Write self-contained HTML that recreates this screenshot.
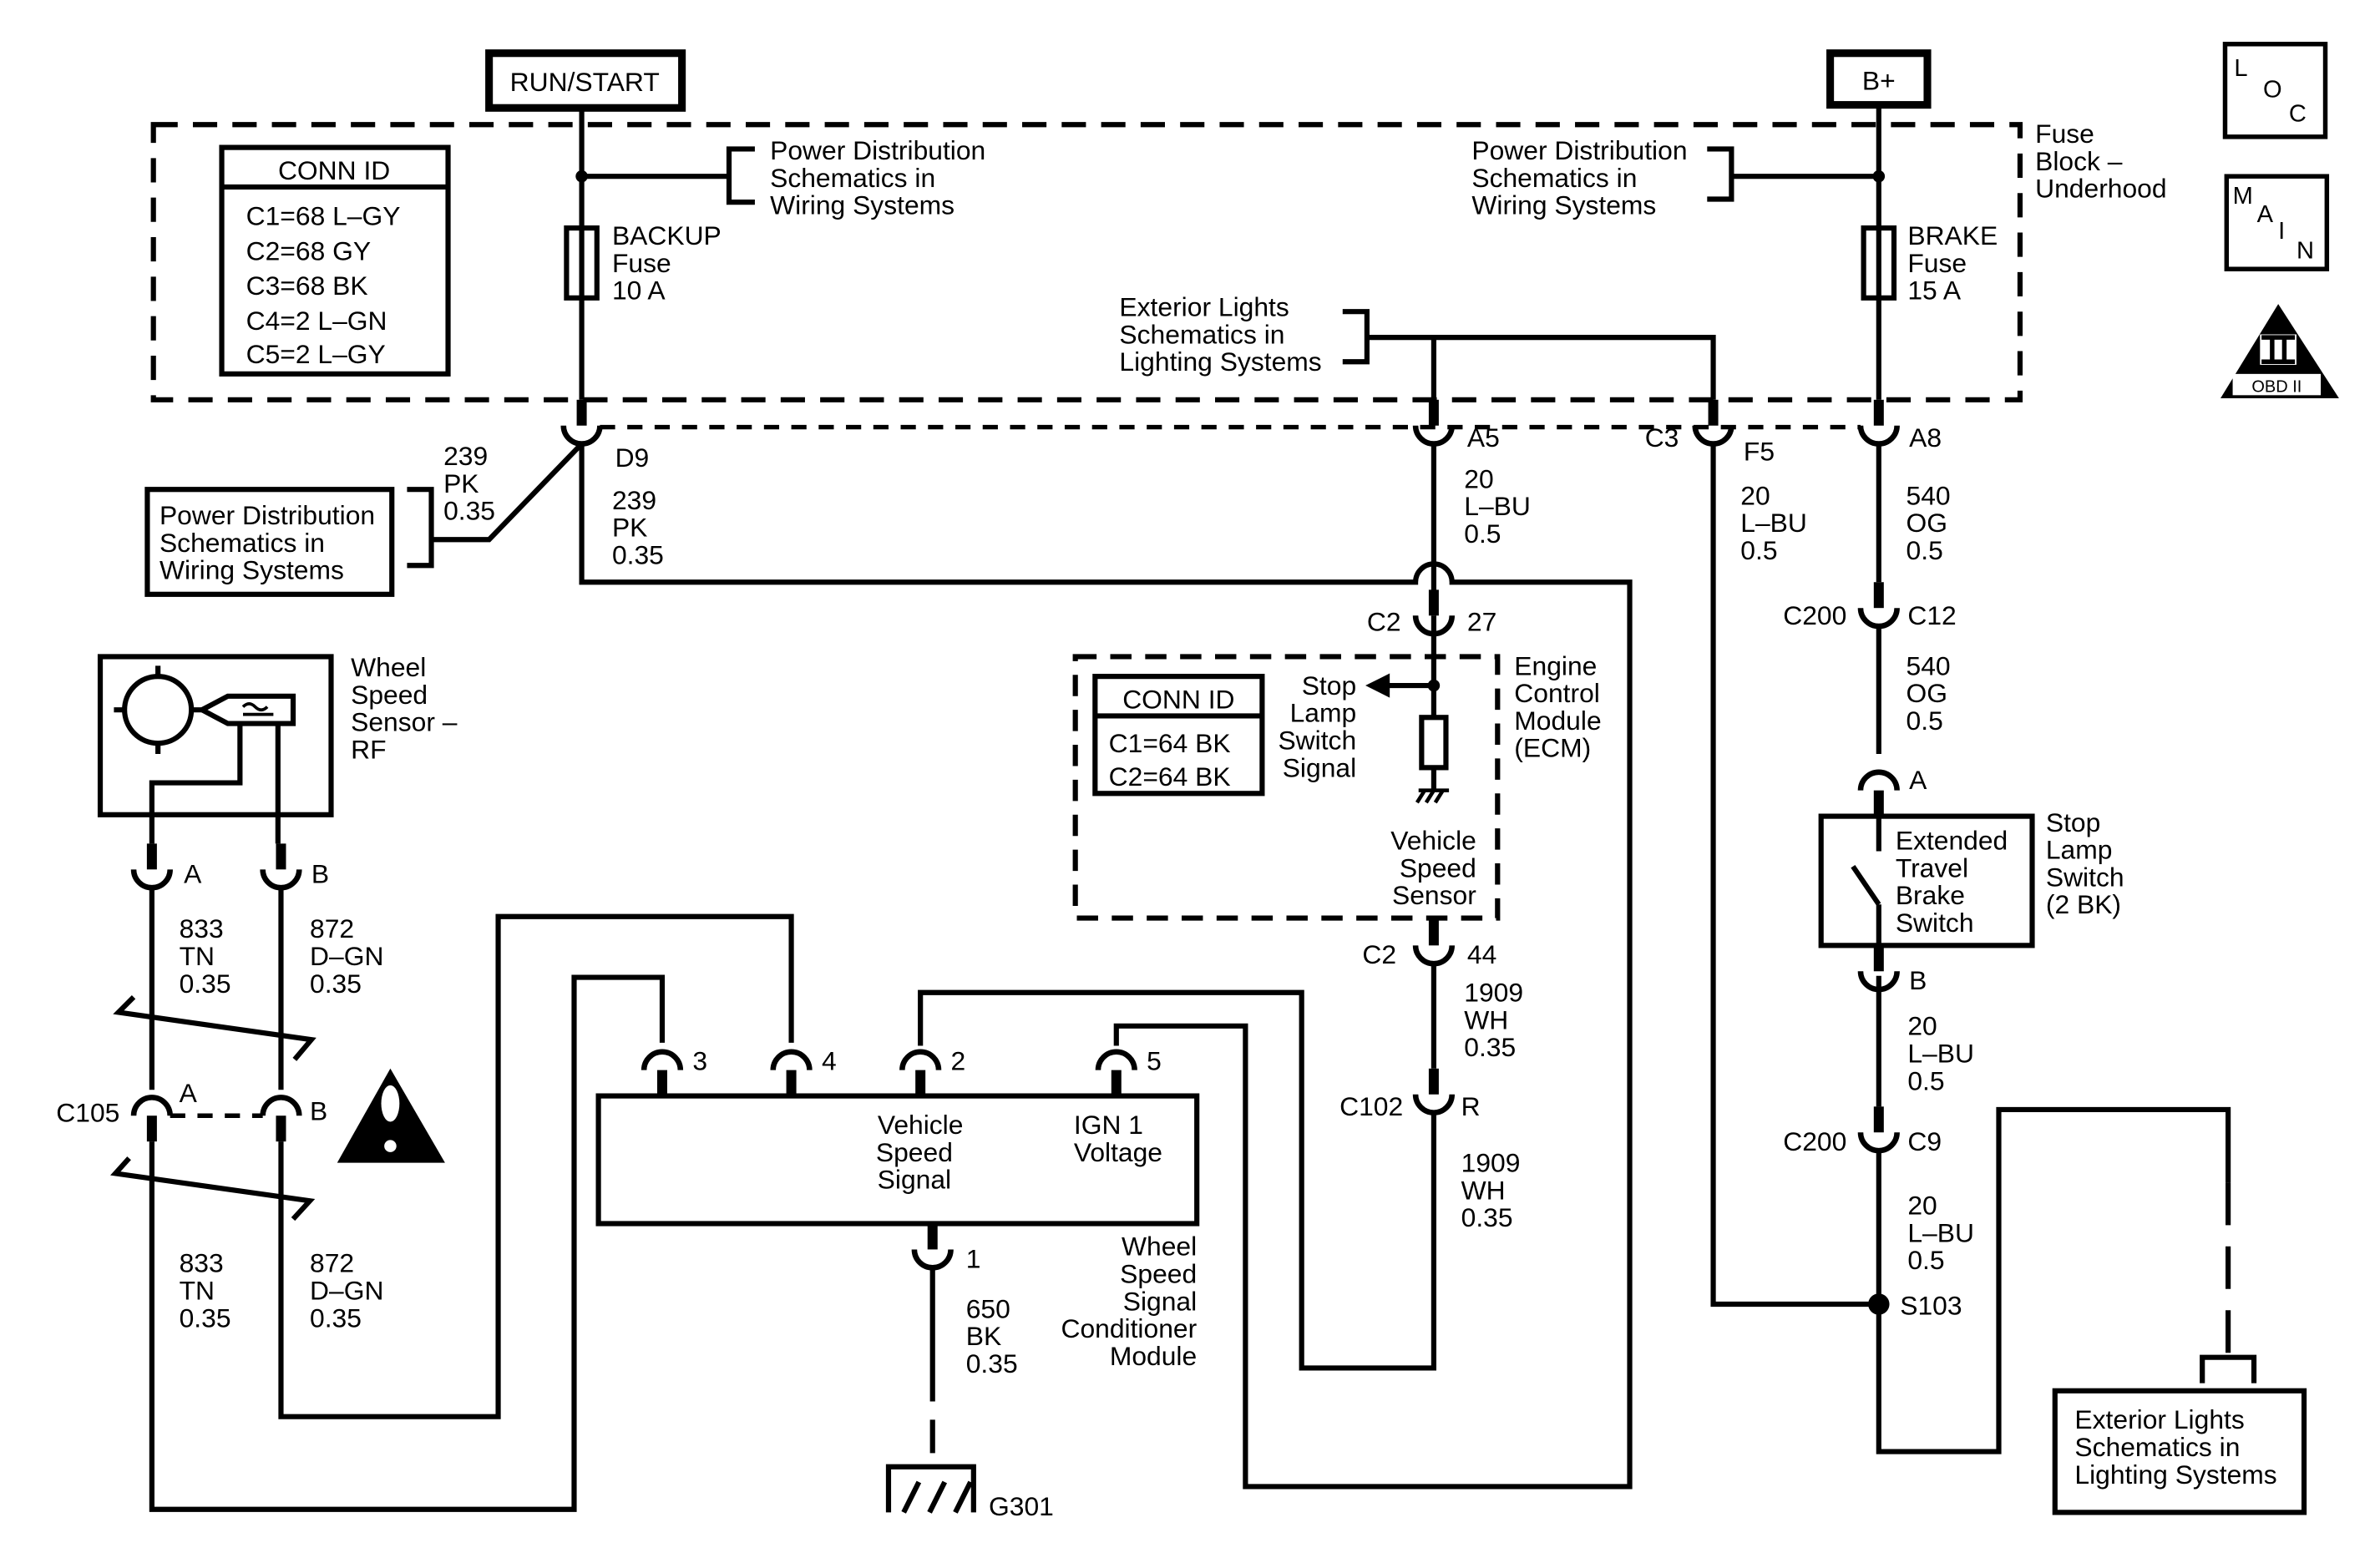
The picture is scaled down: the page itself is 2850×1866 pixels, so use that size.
<!DOCTYPE html>
<html><head><meta charset="utf-8"><style>html,body{margin:0;padding:0;background:#fff}svg{display:block}</style></head>
<body>
<svg width="2850" height="1866" viewBox="0 0 1567 1025" preserveAspectRatio="none" xmlns="http://www.w3.org/2000/svg">
<defs>
<g id="cup"><rect x="-3.3" y="-17" width="6.6" height="17" fill="#000"/><path d="M-12 0 A12 12 0 0 0 12 0" fill="none" stroke="#000" stroke-width="3.6"/></g>
<g id="cap"><rect x="-3.3" y="0" width="6.6" height="17" fill="#000"/><path d="M-12 0 A12 12 0 0 1 12 0" fill="none" stroke="#000" stroke-width="3.6"/></g>
</defs>
<rect width="1567" height="1025" fill="#fff"/>
<g fill="none" stroke="#000" stroke-width="3.4">
<rect x="322" y="35" width="127" height="36" stroke-width="5"/>
<rect x="1205" y="35" width="64" height="34" stroke-width="5"/>
<rect x="1465" y="29" width="66" height="61" stroke-width="3"/>
<rect x="1466" y="116" width="66" height="61" stroke-width="3"/>
<rect x="101" y="82" width="1229" height="181" stroke-dasharray="16,10"/>
<rect x="146" y="97" width="149" height="149"/>
<line x1="146" y1="123" x2="295" y2="123"/>
<line x1="383" y1="73" x2="383" y2="263"/>
<line x1="383" y1="116" x2="480" y2="116"/>
<path d="M497 98 H480 V133 H497"/>
<rect x="373" y="150" width="20" height="46"/>
<line x1="1237" y1="70" x2="1237" y2="263"/>
<line x1="1237" y1="116" x2="1140" y2="116"/>
<path d="M1124 98 H1140 V131 H1124"/>
<rect x="1227" y="150" width="20" height="46"/>
<path d="M884 205 H900 V238 H884"/>
<path d="M900 222 H1128 V263"/>
<line x1="944" y1="222" x2="944" y2="263"/>
<line x1="395" y1="281" x2="1225" y2="281" stroke-width="3" stroke-dasharray="10,8"/>
<path d="M383 292 L322 355 H284"/>
<path d="M268 322 H284 V372 H268"/>
<rect x="97" y="322" width="161" height="69"/>
<path d="M383 292 V383 H932 A12 12 0 0 1 956 383 H1073 V978 H820 V675 H735 V688"/>
<path d="M944 292 V400"/>
<path d="M944 405 V451 M944 451 V472 M944 505 V520"/>
<rect x="936" y="472" width="16" height="33"/>
<path d="M934 520 h20 M938 520 l-5 8 M944 520 l-5 8 M950 520 l-5 8" stroke-width="2.5"/>
<line x1="944" y1="451" x2="912" y2="451"/>
<rect x="708" y="432" width="278" height="172" stroke-dasharray="14,9"/>
<rect x="721" y="445" width="110" height="77"/>
<line x1="721" y1="471" x2="831" y2="471"/>
<path d="M944 634 V703"/>
<path d="M944 732 V900 H857 V653 H606 V688"/>
<path d="M1128 292 V858 H1237"/>
<path d="M1237 292 V383"/>
<path d="M1237 412 V496"/>
<rect x="1199" y="537" width="139" height="85"/>
<path d="M1237 537 V560 M1237 595 L1220 570 M1237 595 V622"/>
<path d="M1237 642 V728"/>
<path d="M1237 757 V955 H1316 V730 H1467 V778"/>
<path d="M1450 910 V893 H1484 V910"/>
<line x1="1467" y1="778" x2="1467" y2="893" stroke-dasharray="28,14"/>
<rect x="1353" y="915" width="164" height="80"/>
<rect x="66" y="432" width="152" height="104"/>
<circle cx="104" cy="467" r="22"/>
<path d="M158 476 V515 H100 V555 M183 476 V555"/>
<path d="M100 584 V717 M185 584 V717 M100 751 V993 H378 V643 H436 V686 M185 751 V932 H328 V603 H521 V686"/>
<path d="M88 656 L78 666 L205 684 L194 697"/>
<path d="M85 762 L76 772 L204 790 L193 802"/>
<line x1="112" y1="734" x2="173" y2="734" stroke-dasharray="10,8" stroke-width="3"/>
<rect x="394" y="721" width="394" height="84"/>
<path d="M614 834 V900"/>
<path d="M614 900 V965" stroke-dasharray="22,12"/>
<path d="M585 995 V965 H641 V995 M595 995 l10 -20 M612 995 l10 -20 M629 995 l10 -20"/>
</g>
<g stroke="#000" stroke-width="3.4" fill="none">
<path d="M104 438 v8 M104 488 v8 M75 467 h8 M125 467 h8"/>
<path d="M133 467 L150 458 H193 V476 H150 Z"/>
<path d="M160 465 q4 -4 8 0 q4 4 8 0 M160 470 h20" stroke-width="2"/>
</g>
<g fill="#000">
<circle cx="383" cy="116" r="4"/><circle cx="1237" cy="116" r="4"/><circle cx="944" cy="451" r="4"/><circle cx="1237" cy="858" r="7"/>
<polygon points="899,451 915,443 915,459"/>
<polygon points="1500,200 1462,262 1540,262"/>
<polygon points="257,703 222,765 293,765"/>
</g>
<rect x="1470" y="246" width="58" height="14" fill="#fff"/>
<rect x="1488" y="220" width="24" height="20" fill="#fff"/>
<path d="M1489 222 h22 M1489 238 h22 M1496 222 v16 M1504 222 v16" stroke="#000" stroke-width="3"/>
<ellipse cx="257" cy="726" rx="6" ry="12" fill="#fff"/><circle cx="257" cy="754" r="4" fill="#fff"/>
<use href="#cup" x="383" y="280"/><use href="#cup" x="944" y="280"/><use href="#cup" x="1128" y="280"/><use href="#cup" x="1237" y="280"/>
<use href="#cup" x="944" y="405"/><use href="#cup" x="1237" y="400"/><use href="#cup" x="944" y="622"/><use href="#cup" x="944" y="720"/>
<use href="#cap" x="1237" y="520"/><use href="#cup" x="1237" y="639"/><use href="#cup" x="1237" y="745"/>
<use href="#cup" x="100" y="572"/><use href="#cup" x="185" y="572"/>
<use href="#cap" x="100" y="734"/><use href="#cap" x="185" y="734"/>
<use href="#cap" x="436" y="704"/><use href="#cap" x="521" y="704"/><use href="#cap" x="606" y="704"/><use href="#cap" x="735" y="704"/>
<use href="#cup" x="614" y="822"/>
<g font-family="Liberation Sans, sans-serif" font-size="17.5" fill="#000">
<text x="385" y="60" text-anchor="middle">RUN/START</text>
<text x="1237" y="59" text-anchor="middle">B+</text>
<text x="1471" y="50" font-size="16">L</text><text x="1490" y="64" font-size="16">O</text><text x="1507" y="80" font-size="16">C</text>
<text x="1470" y="134" font-size="16">M</text><text x="1486" y="146" font-size="16">A</text><text x="1500" y="157" font-size="16">I</text><text x="1512" y="170" font-size="16">N</text>
<text x="1499" y="258" font-size="11" text-anchor="middle">OBD II</text>
<text x="1340" y="94">Fuse</text><text x="1340" y="112">Block –</text><text x="1340" y="130">Underhood</text>
<text x="220" y="118" text-anchor="middle">CONN ID</text>
<text x="162" y="148">C1=68 L–GY</text><text x="162" y="171">C2=68 GY</text><text x="162" y="194">C3=68 BK</text><text x="162" y="217">C4=2 L–GN</text><text x="162" y="239">C5=2 L–GY</text>
<text x="507" y="105">Power Distribution</text><text x="507" y="123">Schematics in</text><text x="507" y="141">Wiring Systems</text>
<text x="969" y="105">Power Distribution</text><text x="969" y="123">Schematics in</text><text x="969" y="141">Wiring Systems</text>
<text x="403" y="161">BACKUP</text><text x="403" y="179">Fuse</text><text x="403" y="197">10 A</text>
<text x="1256" y="161">BRAKE</text><text x="1256" y="179">Fuse</text><text x="1256" y="197">15 A</text>
<text x="737" y="208">Exterior Lights</text><text x="737" y="226">Schematics in</text><text x="737" y="244">Lighting Systems</text>
<text x="292" y="306">239</text><text x="292" y="324">PK</text><text x="292" y="342">0.35</text>
<text x="405" y="307">D9</text>
<text x="403" y="335">239</text><text x="403" y="353">PK</text><text x="403" y="371">0.35</text>
<text x="105" y="345">Power Distribution</text><text x="105" y="363">Schematics in</text><text x="105" y="381">Wiring Systems</text>
<text x="966" y="294">A5</text><text x="1083" y="294">C3</text><text x="1148" y="303">F5</text><text x="1257" y="294">A8</text>
<text x="964" y="321">20</text><text x="964" y="339">L–BU</text><text x="964" y="357">0.5</text>
<text x="1146" y="332">20</text><text x="1146" y="350">L–BU</text><text x="1146" y="368">0.5</text>
<text x="1255" y="332">540</text><text x="1255" y="350">OG</text><text x="1255" y="368">0.5</text>
<text x="900" y="415">C2</text><text x="966" y="415">27</text>
<text x="1174" y="411">C200</text><text x="1256" y="411">C12</text>
<text x="1255" y="444">540</text><text x="1255" y="462">OG</text><text x="1255" y="480">0.5</text>
<text x="997" y="444">Engine</text><text x="997" y="462">Control</text><text x="997" y="480">Module</text><text x="997" y="498">(ECM)</text>
<text x="776" y="466" text-anchor="middle">CONN ID</text>
<text x="730" y="495">C1=64 BK</text><text x="730" y="517">C2=64 BK</text>
<g text-anchor="end"><text x="893" y="457">Stop</text><text x="893" y="475">Lamp</text><text x="893" y="493">Switch</text><text x="893" y="511">Signal</text>
<text x="972" y="559">Vehicle</text><text x="972" y="577">Speed</text><text x="972" y="595">Sensor</text></g>
<text x="1257" y="519">A</text>
<text x="1248" y="559">Extended</text><text x="1248" y="577">Travel</text><text x="1248" y="595">Brake</text><text x="1248" y="613">Switch</text>
<text x="1347" y="547">Stop</text><text x="1347" y="565">Lamp</text><text x="1347" y="583">Switch</text><text x="1347" y="601">(2 BK)</text>
<text x="1257" y="651">B</text>
<text x="1256" y="681">20</text><text x="1256" y="699">L–BU</text><text x="1256" y="717">0.5</text>
<text x="1174" y="757">C200</text><text x="1256" y="757">C9</text>
<text x="1256" y="799">20</text><text x="1256" y="817">L–BU</text><text x="1256" y="835">0.5</text>
<text x="1251" y="865">S103</text>
<text x="1366" y="940">Exterior Lights</text><text x="1366" y="958">Schematics in</text><text x="1366" y="976">Lighting Systems</text>
<text x="897" y="634">C2</text><text x="966" y="634">44</text>
<text x="964" y="659">1909</text><text x="964" y="677">WH</text><text x="964" y="695">0.35</text>
<text x="882" y="734">C102</text><text x="962" y="734">R</text>
<text x="962" y="771">1909</text><text x="962" y="789">WH</text><text x="962" y="807">0.35</text>
<text x="231" y="445">Wheel</text><text x="231" y="463">Speed</text><text x="231" y="481">Sensor –</text><text x="231" y="499">RF</text>
<text x="121" y="581">A</text><text x="205" y="581">B</text>
<text x="118" y="617">833</text><text x="118" y="635">TN</text><text x="118" y="653">0.35</text>
<text x="204" y="617">872</text><text x="204" y="635">D–GN</text><text x="204" y="653">0.35</text>
<text x="37" y="738">C105</text><text x="118" y="725">A</text><text x="204" y="737">B</text>
<text x="118" y="837">833</text><text x="118" y="855">TN</text><text x="118" y="873">0.35</text>
<text x="204" y="837">872</text><text x="204" y="855">D–GN</text><text x="204" y="873">0.35</text>
<text x="456" y="704">3</text><text x="541" y="704">4</text><text x="626" y="704">2</text><text x="755" y="704">5</text>
<text x="606" y="746" text-anchor="middle">Vehicle</text><text x="602" y="764" text-anchor="middle">Speed</text><text x="602" y="782" text-anchor="middle">Signal</text>
<text x="707" y="746">IGN 1</text><text x="707" y="764">Voltage</text>
<text x="636" y="834">1</text>
<text x="636" y="867">650</text><text x="636" y="885">BK</text><text x="636" y="903">0.35</text>
<g text-anchor="end"><text x="788" y="826">Wheel</text><text x="788" y="844">Speed</text><text x="788" y="862">Signal</text><text x="788" y="880">Conditioner</text><text x="788" y="898">Module</text></g>
<text x="651" y="997">G301</text>
</g>
</svg>
</body></html>
